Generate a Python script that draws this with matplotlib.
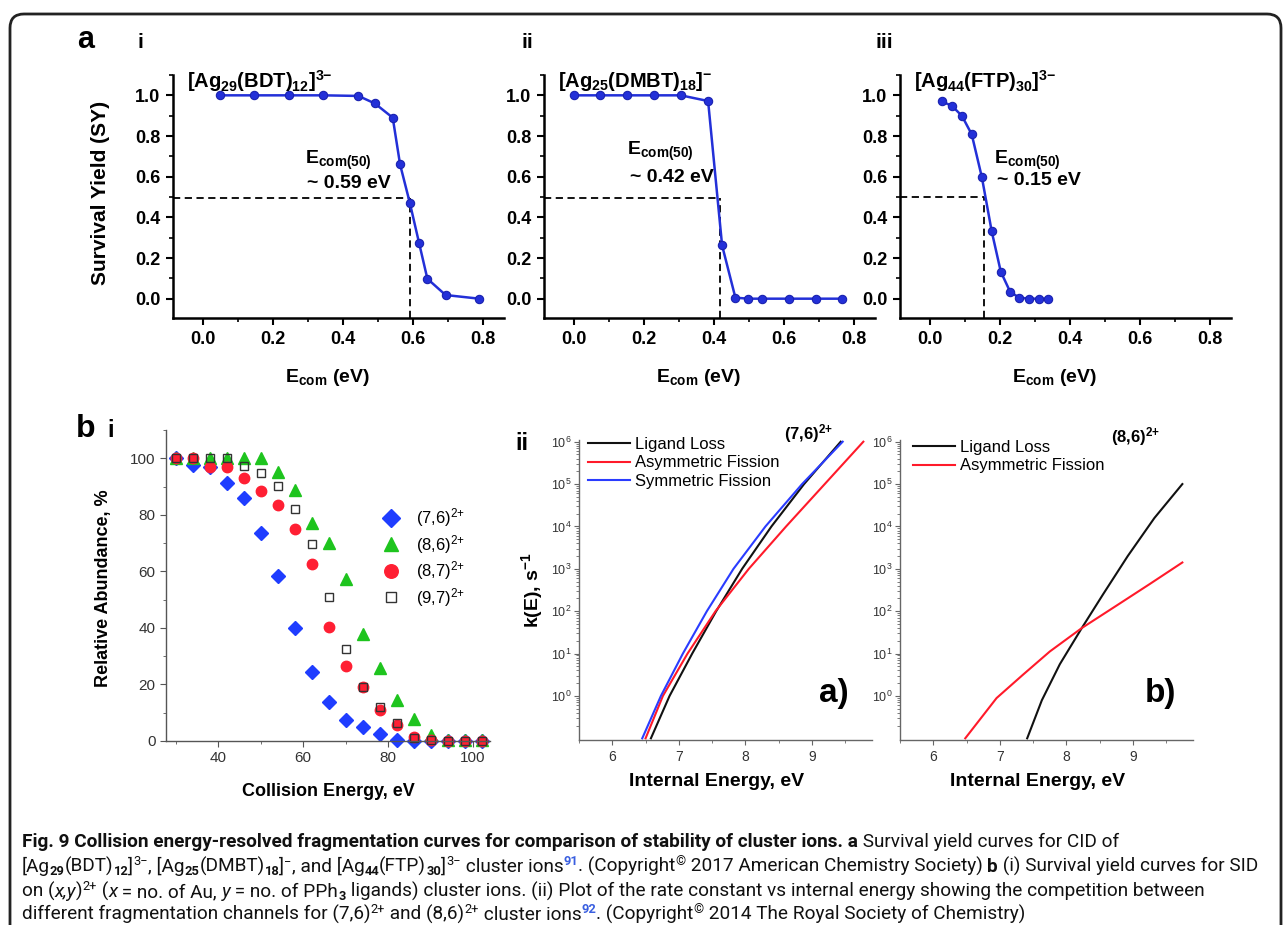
import matplotlib
matplotlib.use("Agg")
import matplotlib.pyplot as plt
from matplotlib.patches import FancyBboxPatch
from matplotlib.transforms import IdentityTransform
from matplotlib.ticker import MultipleLocator, LogLocator, NullFormatter

plt.rcParams["font.family"] = ["Liberation Sans", "DejaVu Sans"]
plt.rcParams["mathtext.default"] = "regular"

W, H = 1284, 925

# ---- panel a: survival yield vs E_com ----
a1_ecom = [0.047, 0.146, 0.246, 0.344, 0.444, 0.491, 0.542, 0.563, 0.591, 0.617, 0.641, 0.693, 0.789]
a1_sy = [1.0, 1.0, 1.0, 1.0, 0.997, 0.96, 0.89, 0.66, 0.47, 0.276, 0.098, 0.018, 0.0]
a2_ecom = [0.0, 0.075, 0.15, 0.227, 0.305, 0.383, 0.423, 0.461, 0.498, 0.536, 0.615, 0.691, 0.767]
a2_sy = [1.0, 1.0, 1.0, 1.0, 1.0, 0.972, 0.262, 0.005, 0.0, 0.0, 0.0, 0.0, 0.0]
a3_ecom = [0.033, 0.062, 0.091, 0.119, 0.148, 0.176, 0.202, 0.229, 0.255, 0.284, 0.311, 0.338]
a3_sy = [0.97, 0.949, 0.899, 0.808, 0.597, 0.332, 0.133, 0.033, 0.005, 0.0, 0.0, 0.0]
a_e50 = [0.59, 0.418, 0.153]
a_sy50 = [0.495, 0.494, 0.5]
a_titles = [r"[Ag$_{29}$(BDT)$_{12}$]$^{3{-}}$", r"[Ag$_{25}$(DMBT)$_{18}$]$^{{-}}$",
            r"[Ag$_{44}$(FTP)$_{30}$]$^{3{-}}$"]
a_e50_text = ["~ 0.59 eV", "~ 0.42 eV", "~ 0.15 eV"]

# ---- panel b i: relative abundance vs collision energy ----
bi_energy = [30, 34, 38, 42, 46, 50, 54, 58, 62, 66, 70, 74, 78, 82, 86, 90, 94, 98, 102]
bi_76 = [100, 97.6, 96.8, 91.1, 86.1, 73.5, 58.3, 39.8, 24.5, 13.8, 7.4, 4.8, 2.3, 0.5, 0, 0, 0, 0, 0]
bi_86 = [100, 100, 100, 100, 100, 100, 95.3, 88.8, 77.0, 69.9, 57.3, 38.0, 25.7, 14.4, 7.7, 2.1, 0.5, 0.3, 0.2]
bi_87 = [100, 100, 97.0, 97.0, 93.1, 88.4, 83.5, 75.0, 62.5, 40.3, 26.6, 19.2, 10.9, 5.6, 1.5, 0.3, 0, 0, 0]
bi_97 = [100, 100, 100, 100, 97.3, 94.9, 90.3, 82.1, 69.8, 51.0, 32.6, 19.2, 12.1, 6.4, 0.9, 0.2, 0, 0, 0]
bi_labels = ["(7,6)$^{2{+}}$", "(8,6)$^{2{+}}$", "(8,7)$^{2{+}}$", "(9,7)$^{2{+}}$"]

# ---- panel b ii: k(E) vs internal energy ----
k_decades = [0.1, 1, 10, 1e2, 1e3, 1e4, 1e5, 1e6]
e76_ligand = [6.58, 6.86, 7.20, 7.56, 7.95, 8.39, 8.88, 9.43]
e76_asym = [6.50, 6.76, 7.13, 7.55, 8.05, 8.61, 9.19, 9.77]
e76_sym = [6.45, 6.73, 7.06, 7.42, 7.82, 8.30, 8.85, 9.46]
e86_ligand = [7.41, 7.63, 7.90, 8.23, 8.55, 8.92, 9.32, 9.74]
k86_ligand = [0.1, 0.79, 5.6, 40, 251, 2000, 15800, 1e5]
e86_asym = [6.48, 6.95, 7.35, 7.75, 8.23, 8.75, 9.25, 9.74]
k86_asym = [0.1, 0.89, 3.2, 11.2, 40, 135, 437, 1410]

BLUE = "#2330d8"

fig = plt.figure(figsize=(W / 100, H / 100), dpi=100)


def px_axes(left, top, right, bottom):
    return fig.add_axes([left / W, 1 - bottom / H, (right - left) / W, (bottom - top) / H])


def ftext(x, y, s, **kw):
    return fig.text(x / W, 1 - y / H, s, **kw)


# ---------------- panel a ----------------
a_lefts = [173, 544, 900]
a_sets = [(a1_ecom, a1_sy), (a2_ecom, a2_sy), (a3_ecom, a3_sy)]
a_text_pos = [((0.291, 0.68), (0.297, 0.565)),
              ((0.151, 0.725), (0.16, 0.595)),
              ((0.183, 0.68), (0.19, 0.58))]
XL = (-0.086, 0.86)
YL = (-0.095, 1.1)
for i, left in enumerate(a_lefts):
    ax = px_axes(left, 75, left + 331, 318)
    ex, sy = a_sets[i]
    ax.plot(ex, sy, "-", color=BLUE, lw=1.8, zorder=3)
    ax.plot(ex, sy, "o", ms=6, mfc=BLUE, mec="#1a22b0", mew=0.8, zorder=4)
    ax.plot([XL[0], a_e50[i]], [a_sy50[i], a_sy50[i]], color="k", lw=1.3, ls=(0, (4, 2.5)), zorder=2)
    ax.plot([a_e50[i], a_e50[i]], [YL[0], a_sy50[i]], color="k", lw=1.3, ls=(0, (4, 2.5)), zorder=2)
    ax.set_xlim(*XL)
    ax.set_ylim(*YL)
    for s in ("top", "right"):
        ax.spines[s].set_visible(False)
    for s in ("left", "bottom"):
        ax.spines[s].set_linewidth(1.8)
    xt = [0.0, 0.2, 0.4, 0.6, 0.8]
    yt = [0.0, 0.2, 0.4, 0.6, 0.8, 1.0]
    ax.set_xticks(xt, [f"{v:.1f}" for v in xt], fontweight="bold", fontsize=13)
    ax.set_yticks(yt, [f"{v:.1f}" for v in yt], fontweight="bold", fontsize=13)
    ax.xaxis.set_minor_locator(MultipleLocator(0.1))
    ax.yaxis.set_minor_locator(MultipleLocator(0.1))
    ax.tick_params(which="major", direction="out", length=5, width=1.5, pad=4)
    ax.tick_params(which="minor", direction="out", length=3, width=1.2)
    ax.set_xlabel("E$_{com}$ (eV)", fontsize=14, fontweight="bold")
    ax.xaxis.set_label_coords(0.467, -0.2)
    if i == 0:
        ax.set_ylabel("Survival Yield (SY)", fontsize=15, fontweight="bold")
        ax.yaxis.set_label_coords(-0.19, 0.514)
    (tx1, ty1), (tx2, ty2) = a_text_pos[i]
    ax.text(tx1, ty1, "E$_{com(50)}$", fontsize=14, fontweight="bold", va="center")
    ax.text(tx2, ty2, a_e50_text[i], fontsize=14, fontweight="bold", va="center")
    ax.text(-0.045, 1.07, a_titles[i], fontsize=14.5, fontweight="bold", va="center")

ftext(86, 48, "a", fontsize=22, fontweight="bold", ha="center", va="baseline")
ftext(140, 48, "i", fontsize=15, fontweight="bold", ha="center", va="baseline")
ftext(527, 48, "ii", fontsize=15, fontweight="bold", ha="center", va="baseline")
ftext(884, 48, "iii", fontsize=15, fontweight="bold", ha="center", va="baseline")

# ---------------- panel b i ----------------
ax = px_axes(166, 430, 490, 741)
ax.plot(bi_energy, bi_76, ls="none", marker="D", ms=7, color="#1f3dff", clip_on=False, label=bi_labels[0])
ax.plot(bi_energy, bi_86, ls="none", marker="^", ms=8, color="#1ec41e", clip_on=False, label=bi_labels[1])
ax.plot(bi_energy, bi_87, ls="none", marker="o", ms=7.5, color="#ff1f33", clip_on=False, label=bi_labels[2])
ax.plot(bi_energy, bi_97, ls="none", marker="s", ms=6, mfc="none", mec="#333333", mew=1.0,
        clip_on=False, label=bi_labels[3])
ax.set_xlim(27.7, 104)
ax.set_ylim(0, 110)
for s in ("top", "right"):
    ax.spines[s].set_visible(False)
for s in ("left", "bottom"):
    ax.spines[s].set_color("#555555")
    ax.spines[s].set_linewidth(1.0)
ax.set_xticks([40, 60, 80, 100])
ax.set_yticks([0, 20, 40, 60, 80, 100])
ax.xaxis.set_minor_locator(MultipleLocator(10))
ax.yaxis.set_minor_locator(MultipleLocator(10))
ax.tick_params(which="both", direction="out", color="#555555", labelcolor="#333333", labelsize=11)
ax.tick_params(which="major", length=4)
ax.tick_params(which="minor", length=2.5)
ax.set_xlabel("Collision Energy, eV", fontsize=13, fontweight="bold")
ax.xaxis.set_label_coords(0.5, -0.135)
ax.set_ylabel("Relative Abundance, %", fontsize=13, fontweight="bold")
ax.yaxis.set_label_coords(-0.168, 0.49)
ax.legend(loc="upper left", bbox_to_anchor=(0.67, 0.755), frameon=False, fontsize=12, markerscale=1.3,
          handlelength=1.0, handletextpad=1.0, labelspacing=0.22, borderpad=0, borderaxespad=0)

ftext(86, 437, "b", fontsize=23, fontweight="bold", ha="center", va="baseline")
ftext(111, 437, "i", fontsize=17, fontweight="bold", ha="center", va="baseline")
ftext(522, 450, "ii", fontsize=17, fontweight="bold", ha="center", va="baseline")


# ---------------- panel b ii ----------------
def rate_axes(left):
    ax = px_axes(left, 440, left + 293, 740)
    ax.set_yscale("log")
    ax.set_xlim(5.5, 9.9)
    ax.set_ylim(10 ** -1.04, 10 ** 6.04)
    for s in ("top", "right"):
        ax.spines[s].set_visible(False)
    for s in ("left", "bottom"):
        ax.spines[s].set_color("#666666")
        ax.spines[s].set_linewidth(1.0)
    ax.set_xticks([6, 7, 8, 9])
    ax.xaxis.set_minor_locator(MultipleLocator(0.5))
    ax.set_yticks([1, 10, 1e2, 1e3, 1e4, 1e5, 1e6],
                  ["10$^{0}$", "10$^{1}$", "10$^{2}$", "10$^{3}$", "10$^{4}$", "10$^{5}$", "10$^{6}$"])
    ax.yaxis.set_minor_locator(LogLocator(base=10, subs=range(2, 10), numticks=20))
    ax.yaxis.set_minor_formatter(NullFormatter())
    ax.tick_params(which="both", direction="out", color="#666666", labelcolor="#333333")
    ax.tick_params(axis="y", labelsize=9, pad=2)
    ax.tick_params(axis="x", labelsize=10)
    ax.tick_params(which="major", length=3.5)
    ax.tick_params(which="minor", length=2)
    ax.set_xlabel("Internal Energy, eV", fontsize=14, fontweight="bold")
    ax.xaxis.set_label_coords(0.47, -0.11)
    return ax


ax = rate_axes(579)
ax.plot(e76_ligand, k_decades, color="#111111", lw=1.5, label="Ligand Loss")
ax.plot(e76_asym, k_decades, color="#ff1a2a", lw=1.5, label="Asymmetric Fission")
ax.plot(e76_sym, k_decades, color="#2a3cff", lw=1.5, label="Symmetric Fission")
ax.set_ylabel("k(E), s$^{-1}$", fontsize=14, fontweight="bold")
ax.yaxis.set_label_coords(-0.116, 0.5)
ax.legend(loc="upper left", bbox_to_anchor=(0.031, 1.01), frameon=False, fontsize=12,
          handlelength=2.5, handletextpad=0.3, labelspacing=0.2, borderpad=0, borderaxespad=0)
ax.text(0.70, 1.02, "(7,6)$^{2{+}}$", transform=ax.transAxes, fontsize=12, fontweight="bold", va="center")
ax.text(0.87, 0.155, "a)", transform=ax.transAxes, fontsize=24, fontweight="bold", ha="center", va="center")

ax = rate_axes(900)
ax.plot(e86_ligand, k86_ligand, color="#111111", lw=1.5, label="Ligand Loss")
ax.plot(e86_asym, k86_asym, color="#ff1a2a", lw=1.5, label="Asymmetric Fission")
ax.legend(loc="upper left", bbox_to_anchor=(0.044, 1.0), frameon=False, fontsize=12,
          handlelength=2.5, handletextpad=0.3, labelspacing=0.2, borderpad=0, borderaxespad=0)
ax.text(0.72, 1.01, "(8,6)$^{2{+}}$", transform=ax.transAxes, fontsize=12, fontweight="bold", va="center")
ax.text(0.89, 0.155, "b)", transform=ax.transAxes, fontsize=24, fontweight="bold", ha="center", va="center")

# ---------------- frame ----------------
frame = FancyBboxPatch((10, -40), 1271, H - 14 + 40, boxstyle="round,pad=0,rounding_size=14",
                       transform=IdentityTransform(), fill=False, lw=2.0, ec="#222222")
fig.patches.append(frame)

# ---------------- caption ----------------
renderer = fig.canvas.get_renderer()
CAP_FAMILY = ["Roboto", "Liberation Sans"]
REF_BLUE = "#3a5fe0"


def run_props(style, size):
    kw = dict(family=CAP_FAMILY, fontsize=size, color="#111111")
    if "b" in style:
        kw["fontweight"] = "bold"
    if "i" in style:
        kw["fontstyle"] = "italic"
    if "sup" in style or "sub" in style:
        kw["fontsize"] = size * 0.68
    if "blue" in style:
        kw["color"] = REF_BLUE
    return kw


def text_width(s, kw):
    t = fig.text(0, 0, "|" + s + "|", **kw)
    w1 = t.get_window_extent(renderer).width
    t.set_text("||")
    w0 = t.get_window_extent(renderer).width
    t.remove()
    return w1 - w0


def draw_runs(x, y, runs, size, draw=True):
    for s, style in runs:
        kw = run_props(style, size)
        dy = 0
        if "sup" in style:
            dy = -size * 0.5
        elif "sub" in style:
            dy = size * 0.25
        if draw:
            ftext(x, y + dy, s, va="baseline", ha="left", **kw)
        x += text_width(s, kw)
    return x


cap1 = [("Fig. 9 Collision energy-resolved fragmentation curves for comparison of stability of cluster ions.", "b"),
        (" a", "b"), (" Survival yield curves for CID of", "")]
cap2 = [("[Ag", ""), ("29", "sub"), ("(BDT)", ""), ("12", "sub"), ("]", ""), ("3\u2212", "sup"),
        (", [Ag", ""), ("25", "sub"), ("(DMBT)", ""), ("18", "sub"), ("]", ""), ("\u2212", "sup"),
        (", and [Ag", ""), ("44", "sub"), ("(FTP)", ""), ("30", "sub"), ("]", ""), ("3\u2212", "sup"),
        (" cluster ions", ""), ("91", "sup blue"), (". (Copyright", ""), ("\u00a9", "sup"),
        (" 2017 American Chemistry Society) ", ""), ("b", "b"), (" (i) Survival yield curves for SID", "")]
cap3 = [("on (", ""), ("x,y", "i"), (")", ""), ("2+", "sup"), (" (", ""), ("x", "i"), (" = no. of Au, ", ""),
        ("y", "i"), (" = no. of PPh", ""), ("3", "sub"),
        (" ligands) cluster ions. (ii) Plot of the rate constant vs internal energy showing the competition between", "")]
cap4 = [("different fragmentation channels for (7,6)", ""), ("2+", "sup"), (" and (8,6)", ""), ("2+", "sup"),
        (" cluster ions", ""), ("92", "sup blue"), (". (Copyright", ""), ("\u00a9", "sup"),
        (" 2014 The Royal Society of Chemistry)", "")]

base = 10.0
end = draw_runs(22, 0, cap2, base, draw=False)
cap_size = base * (1262 - 22) / (end - 22)
for yb, runs in zip([847, 872, 897, 920], [cap1, cap2, cap3, cap4]):
    draw_runs(22, yb, runs, cap_size)

fig.savefig("out.png", dpi=100)
